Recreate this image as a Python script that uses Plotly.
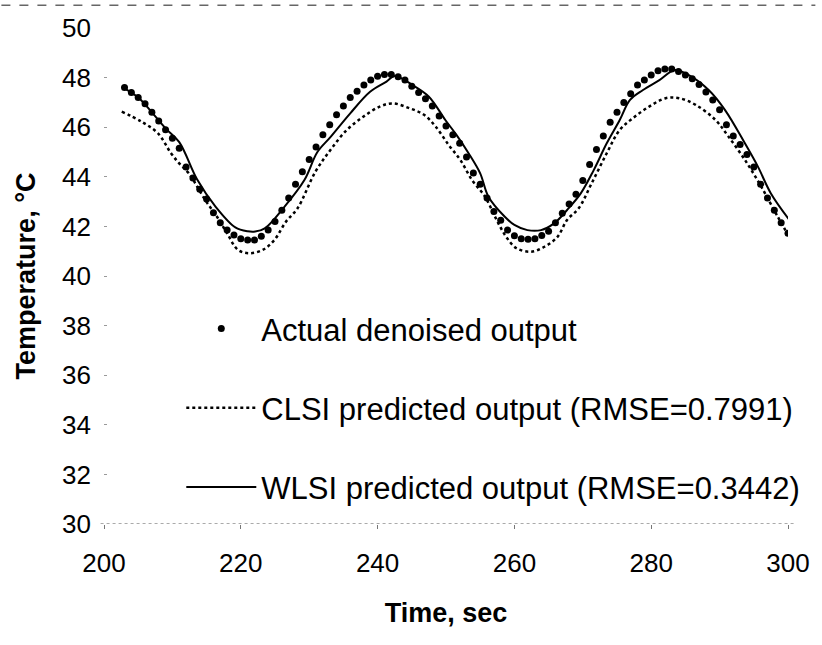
import plotly.graph_objects as go

# ---- data ----
actual_t = [203, 204, 205, 206, 207, 208, 209, 210, 211, 212, 213, 214, 215, 216, 217, 218, 219, 220,
            221, 222, 223, 224, 225, 226, 227, 228, 229, 230, 231, 232, 233, 234, 235, 236, 237, 238,
            239, 240, 241, 242, 243, 244, 245, 246, 247, 248, 249, 250, 251, 252, 253, 254, 255, 256,
            257, 258, 259, 260, 261, 262, 263, 264, 265, 266, 267, 268, 269, 270, 271, 272, 273, 274,
            275, 276, 277, 278, 279, 280, 281, 282, 283, 284, 285, 286, 287, 288, 289, 290, 291, 292,
            293, 294, 295, 296, 297, 298, 299, 300]
actual_v = [47.6, 47.4, 47.2, 46.95, 46.6, 46.25, 45.9, 45.55, 45.15, 44.4, 43.95, 43.5, 43.1, 42.55,
            42.15, 41.85, 41.65, 41.5, 41.45, 41.45, 41.6, 41.85, 42.2, 42.65, 43.15, 43.7, 44.2, 44.7,
            45.2, 45.7, 46.1, 46.5, 46.85, 47.2, 47.45, 47.7, 47.9, 48.05, 48.13, 48.13, 48.03, 47.9,
            47.65, 47.4, 47.15, 46.85, 46.45, 46.05, 45.7, 45.35, 44.8, 44.15, 43.7, 43.15, 42.6, 42.25,
            41.85, 41.62, 41.5, 41.48, 41.5, 41.63, 41.8, 42.15, 42.53, 42.9, 43.3, 43.85, 44.5, 45.1,
            45.65, 46.2, 46.6, 47.0, 47.35, 47.7, 47.9, 48.1, 48.28, 48.35, 48.35, 48.25, 48.1, 47.95,
            47.72, 47.42, 47.1, 46.7, 46.1, 45.65, 45.3, 44.9, 44.4, 43.7, 43.15, 42.65, 42.15, 41.72]

clsi_t = [202.6, 205.5, 207.9, 209.8, 211.0, 212.4, 214.8, 216.5, 218.0, 219.6, 221.3, 223.2, 224.9,
          226.6, 228.3, 230.9, 233.1, 235.5, 237.9, 240.3, 242.2, 244.7, 246.8, 248.5, 250.4, 252.1,
          253.8, 255.7, 257.4, 258.8, 260.3, 262.4, 264.4, 266.3, 267.7, 269.4, 271.3, 273.5, 275.4,
          277.3, 279.7, 282.1, 284.1, 286.5, 289.4, 291.3, 293.7, 296.1, 298.5, 300.2]
clsi_v = [46.63, 46.22, 45.75, 44.95, 44.54, 44.14, 43.06, 42.4, 41.72, 41.05, 40.92, 41.05, 41.45,
          42.19, 42.73, 44.2, 45.08, 45.89, 46.42, 46.83, 46.96, 46.76, 46.5, 46.02, 45.28, 44.68,
          43.87, 43.2, 42.26, 41.58, 41.12, 40.98, 41.18, 41.58, 42.26, 42.73, 43.74, 44.95, 45.89,
          46.36, 46.83, 47.17, 47.17, 46.9, 46.29, 45.62, 44.68, 43.6, 42.39, 41.58]

wlsi_t = [202.6, 205.0, 207.0, 209.0, 211.0, 213.6, 216.3, 219.2, 221.0, 222.1, 223.5, 226.4, 229.3,
          231.2, 233.1, 236.0, 238.9, 241.3, 242.5, 245.1, 247.5, 249.9, 251.5, 253.3, 255.0, 256.2,
          258.6, 260.0, 261.9, 263.9, 265.8, 267.7, 269.7, 271.6, 273.5, 275.4, 276.9, 278.8, 281.2,
          283.4, 285.5, 288.4, 290.8, 293.7, 295.6, 297.5, 300.2]
wlsi_v = [47.63, 47.2, 46.6, 45.95, 45.4, 43.9, 42.8, 41.96, 41.8, 41.79, 41.92, 42.8, 43.87, 45.0,
          45.6, 46.56, 47.43, 47.84, 48.06, 47.7, 47.23, 46.29, 45.7, 44.95, 44.14, 43.2, 42.39, 42.06,
          41.85, 41.85, 42.12, 42.66, 43.33, 44.27, 45.35, 46.29, 47.1, 47.5, 47.9, 48.3, 48.1, 47.5,
          46.69, 45.35, 44.41, 43.33, 42.26]

x_ticks = [200, 220, 240, 260, 280, 300]
y_ticks = [30, 32, 34, 36, 38, 40, 42, 44, 46, 48, 50]

names = ["Actual denoised output",
         "CLSI predicted output (RMSE=0.7991)",
         "WLSI predicted output (RMSE=0.3442)"]

FONT = "Liberation Sans, Arial, Helvetica, sans-serif"

fig = go.Figure()
fig.add_trace(go.Scatter(x=actual_t, y=actual_v, mode="markers", name=names[0],
                         marker=dict(color="black", size=7), legendgroup="a"))
fig.add_trace(go.Scatter(x=clsi_t, y=clsi_v, mode="lines", name=names[1], line_shape="spline",
                         line=dict(color="black", width=2.5, dash="dot"), legendgroup="b"))
fig.add_trace(go.Scatter(x=wlsi_t, y=wlsi_v, mode="lines", name=names[2], line_shape="spline",
                         line=dict(color="black", width=2), legendgroup="c"))

# faint scanned x-axis line and top border
fig.add_shape(type="line", xref="paper", yref="y", x0=-0.005, x1=1.01, y0=30, y1=30,
              line=dict(color="#555", width=1, dash="dot"), layer="below")
fig.add_shape(type="line", xref="paper", yref="paper", x0=-0.15, x1=1.04, y0=1.046, y1=1.046,
              line=dict(color="#666", width=1.5, dash="dash"), layer="below")

fig.update_layout(
    width=822, height=645,
    margin=dict(l=104, r=27, t=28, b=121),
    paper_bgcolor="white", plot_bgcolor="white",
    font=dict(family=FONT, color="black", size=26),
    showlegend=True,
    legend=dict(x=0.113, y=0.448, xanchor="left", yanchor="top",
                font=dict(size=31, family=FONT), bgcolor="rgba(0,0,0,0)",
                itemwidth=70, tracegroupgap=36, traceorder="grouped"),
    xaxis=dict(range=[200, 300], tickvals=x_ticks, ticktext=[str(v) for v in x_ticks],
               showgrid=False, zeroline=False, showline=False,
               ticks="outside", ticklen=4, tickcolor="#777",
               ticklabelstandoff=12,
               title=dict(text="<b>Time, sec</b>", font=dict(size=27, family=FONT), standoff=25)),
    yaxis=dict(range=[30, 50], tickvals=y_ticks, ticktext=[str(v) for v in y_ticks],
               showgrid=False, zeroline=False, showline=False,
               ticks="inside", ticklen=3, tickcolor="#999",
               ticklabelstandoff=12,
               title=dict(text="<b>Temperature, °C</b>", font=dict(size=27, family=FONT), standoff=18)),
)

fig.write_html("out.html")
